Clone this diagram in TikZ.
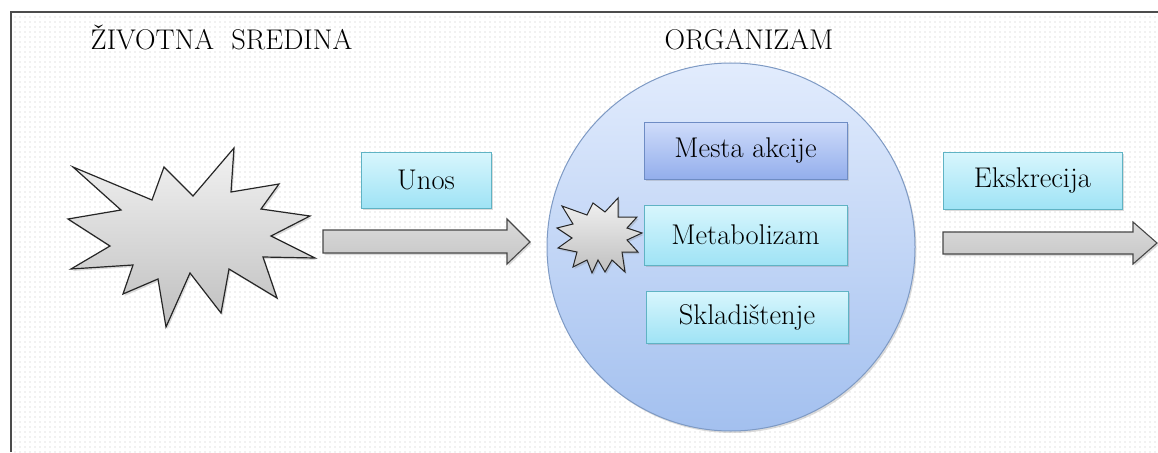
\documentclass[tikz,border=0pt]{standalone}
\usepackage{fontspec}
\usetikzlibrary{patterns.meta,shadows}
\definecolor{cyantop}{HTML}{D8F6FD}
\definecolor{cyanbot}{HTML}{9FE3F5}
\definecolor{cyanline}{HTML}{5FB3C4}
\definecolor{bluetop}{HTML}{CFDCFA}
\definecolor{bluebot}{HTML}{93AEEC}
\definecolor{blueline}{HTML}{6E8CC4}
\definecolor{circtop}{HTML}{E2ECFD}
\definecolor{circbot}{HTML}{A3C0EF}
\definecolor{circline}{HTML}{7E9AC4}
\definecolor{greytop}{HTML}{F2F2F2}
\definecolor{greybot}{HTML}{BFBFBF}
\definecolor{outl}{HTML}{262626}
\begin{document}
\begin{tikzpicture}[x=1pt,y=-1pt,
  lbl/.style={font=\fontsize{28.5}{30}\selectfont, text=black},
  sh/.style={drop shadow={opacity=0.28, shadow xshift=1.5pt, shadow yshift=-2pt}},
  boxbase/.style={lbl, sh, inner sep=0pt, line width=0.9pt},
  cyanbox/.style={boxbase, draw=cyanline, top color=cyantop, bottom color=cyanbot},
  bluebox/.style={boxbase, draw=blueline, top color=bluetop, bottom color=bluebot},
  burst/.style={sh, draw=outl, line width=1.2pt, line join=miter, top color=greytop, bottom color=greybot},
  blockarrow/.style={sh, draw=outl!85, line width=1.1pt, top color=greytop!80!gray, bottom color=greybot!90!white},
  title/.style={lbl, anchor=base}
]
\useasboundingbox (0,0) rectangle (1158,452);
% background
\fill[white] (0,0) rectangle (1158,452);
\fill[pattern={Dots[radius=0.55pt, distance=5pt]}, pattern color=gray!45] (11,12) rectangle (1158,452);
\draw[line width=1.3pt, draw=black!70] (11,452) -- (11,12) -- (1158,12);

% titles
\node[title] (env) at (221.5,50) {ŽIVOTNA\ \ SREDINA};
\node[title] (org) at (749,49) {ORGANIZAM};

% big burst
\path[burst] (73,167) -- (152,200) -- (164,167) -- (193,196) -- (234,148) -- (231,192)
  -- (279,184) -- (261,209) -- (310,216) -- (271,236) -- (315,258) -- (263,257)
  -- (277,298) -- (229,269) -- (221,313) -- (190,273) -- (166,327) -- (158,279)
  -- (123,294) -- (133,265) -- (71,269) -- (110,246) -- (68,219) -- (121,210) -- cycle;

% Unos
\node[cyanbox, minimum width=130pt, minimum height=56pt] (unos) at (426,180) {Unos};
\path[blockarrow] (323,230) -- (507,230) -- (507,219) -- (530,242) -- (507,264)
  -- (507,253) -- (323,253) -- cycle;

% organism circle
\node[sh, circle, draw=circline, line width=1pt, top color=circtop, bottom color=circbot,
  minimum size=368pt, inner sep=0pt] (cell) at (731,247) {};

\node[bluebox, minimum width=203pt, minimum height=57pt] (mesta) at (745.5,150.5) {Mesta akcije};
\node[cyanbox, minimum width=203pt, minimum height=60pt] (metab) at (745.5,235) {Metabolizam};
\node[cyanbox, minimum width=202pt, minimum height=52pt] (sklad) at (747,317) {Skladištenje};

% small burst
\path[burst, line width=1pt] (562,206) -- (587,215) -- (593,203) -- (605,212) -- (618,198)
  -- (618,217) -- (637,217) -- (627,228) -- (642,233) -- (627,240) -- (638,252)
  -- (622,252) -- (625,272) -- (612,260) -- (605,272) -- (598,260) -- (592,273)
  -- (587,260) -- (573,267) -- (577,252) -- (558,248) -- (572,238) -- (557,228)
  -- (573,224) -- cycle;

% Ekskrecija
\node[cyanbox, minimum width=179pt, minimum height=57pt] (eks) at (1032.5,180.5) {Ekskrecija};
\path[blockarrow] (943,232) -- (1133,232) -- (1133,222) -- (1157,243) -- (1133,264)
  -- (1133,254) -- (943,254) -- cycle;
\end{tikzpicture}
\end{document}
